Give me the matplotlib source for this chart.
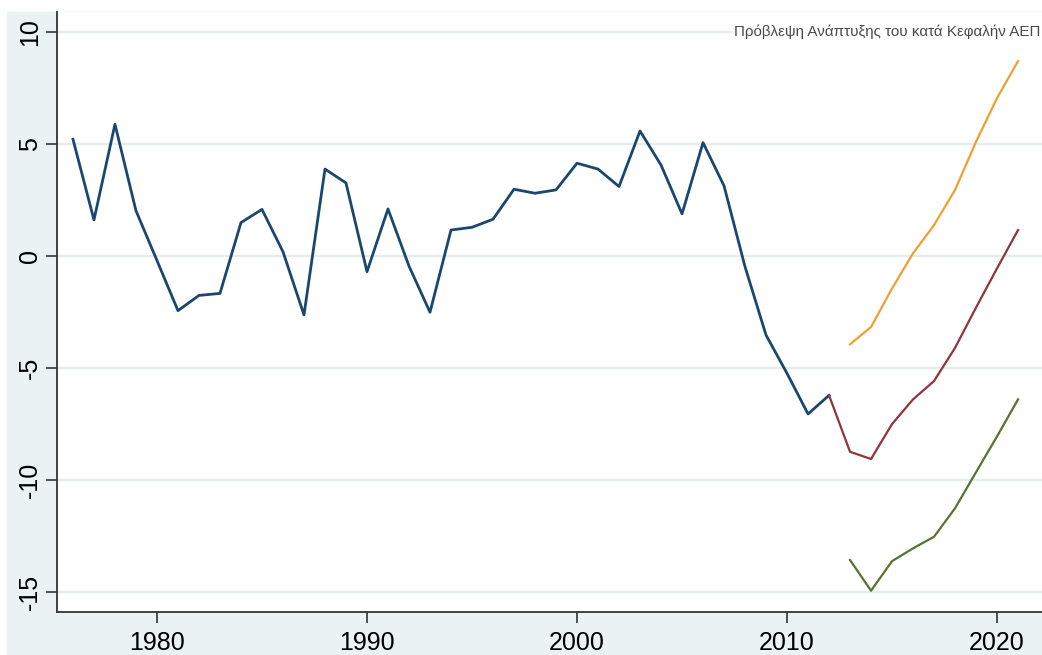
import matplotlib
matplotlib.use("Agg")
import matplotlib.pyplot as plt
from matplotlib.patches import Rectangle

plt.rcParams['font.family'] = ['Liberation Sans', 'DejaVu Sans']

# historical per-capita GDP growth (%)
years_hist = list(range(1976, 2013))
growth_hist = [5.21, 1.61, 5.88, 2.02, -0.2, -2.44, -1.76, -1.67, 1.49, 2.08,
               0.19, -2.63, 3.88, 3.26, -0.70, 2.10, -0.45, -2.51, 1.16, 1.28,
               1.64, 2.98, 2.80, 2.95, 4.14, 3.88, 3.10, 5.58, 4.06, 1.88,
               5.06, 3.13, -0.48, -3.53, -5.24, -7.05, -6.22]

# forecast scenarios
years_base = list(range(2012, 2022))
growth_base = [-6.22, -8.74, -9.06, -7.50, -6.40, -5.58, -4.10, -2.30, -0.55, 1.16]

years_fc = list(range(2013, 2022))
growth_high = [-3.94, -3.17, -1.45, 0.12, 1.38, 2.95, 5.10, 7.05, 8.70]
growth_low = [-13.57, -14.94, -13.62, -13.05, -12.53, -11.26, -9.65, -8.05, -6.40]

yticks = [-15, -10, -5, 0, 5, 10]
xticks = [1980, 1990, 2000, 2010, 2020]
title = "Πρόβλεψη Ανάπτυξης του κατά Κεφαλήν ΑΕΠ"

W, H = 1042, 655
fig = plt.figure(figsize=(W / 100, H / 100), dpi=100, facecolor="white")
# Stata-like light bluish graph region, behind the axes
bg = Rectangle((7 / W, 0), 1 - 7 / W, (H - 12) / H,
               transform=fig.transFigure, color="#EAF2F3", zorder=-5)
fig.add_artist(bg)

ax = fig.add_axes([57 / W, (H - 612) / H, (W - 57) / W, (612 - 12) / H])
ax.set_facecolor("white")

ax.plot(years_hist, growth_hist, color="#1A476F", lw=2.0, zorder=3)
ax.plot(years_base, growth_base, color="#90353B", lw=1.6, zorder=3)
ax.plot(years_fc, growth_high, color="#F0A030", lw=1.6, zorder=3)
ax.plot(years_fc, growth_low, color="#55752F", lw=1.6, zorder=3)

ax.set_xlim(1975.24, 2022.14)
ax.set_ylim(-15.89, 10.89)
ax.set_xticks(xticks)
ax.set_yticks(yticks)
ax.set_yticklabels([str(v) for v in yticks], rotation=90, va="center")

for y in yticks:
    ax.axhline(y, color="#E6ECED", lw=1.6, zorder=1)

for s in ["top", "right"]:
    ax.spines[s].set_visible(False)
for s in ["left", "bottom"]:
    ax.spines[s].set_color("#333333")
    ax.spines[s].set_linewidth(1.3)

ax.tick_params(axis="both", labelsize=18, length=8, width=1.2, color="#333333",
               labelcolor="black")
ax.tick_params(axis="x", pad=6)
ax.tick_params(axis="y", pad=3)

ax.text(1040 / W, (H - 32) / H, title, transform=fig.transFigure,
        ha="right", va="center", fontsize=10.9, color="#4A4A4A",
        bbox=dict(facecolor="white", edgecolor="none", pad=2), zorder=5)

fig.savefig("out.png", dpi=100, facecolor=fig.get_facecolor())
